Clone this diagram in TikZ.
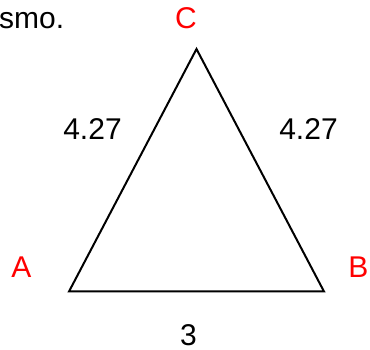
\documentclass[tikz,border=0pt]{standalone}
\usepackage{fontspec}
\setmainfont{Liberation Sans}
\begin{document}
\begin{tikzpicture}[x=1pt,y=-1pt,
  lbl/.style={font=\fontsize{30}{34}\selectfont, inner sep=0pt, anchor=base},
  vlbl/.style={lbl, text=red},
  edge/.style={line width=2pt, line join=miter}]
\useasboundingbox (0,0) rectangle (370,350);
\clip (0,0) rectangle (370,350);
\coordinate (A) at (69,291.5);
\coordinate (B) at (324,291.5);
\coordinate (C) at (196.5,49);
\draw[edge] (A) -- (B) -- (C) -- cycle;
\node[lbl, anchor=base west] (t) at (-1,29) {smo.};
\node[vlbl] (lc) at (186,29) {C};
\node[vlbl] (la) at (21.5,278) {A};
\node[vlbl] (lb) at (358.5,278) {B};
\node[lbl] (l1) at (92.5,140) {4.27};
\node[lbl] (l2) at (308.5,140) {4.27};
\node[lbl] (l3) at (188.5,345) {3};
\end{tikzpicture}
\end{document}
